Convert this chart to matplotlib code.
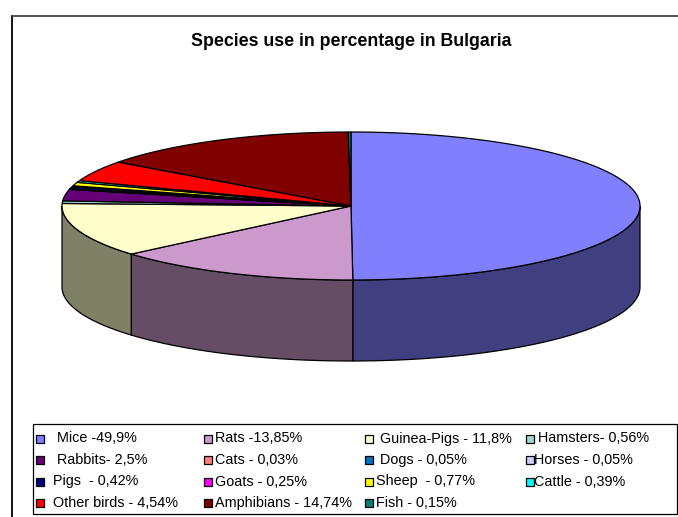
import numpy as np
import matplotlib
matplotlib.use('Agg')
import matplotlib.pyplot as plt
from matplotlib.patches import Polygon, Rectangle
from matplotlib.colors import to_rgb

species = ['Mice', 'Rats', 'Guinea-Pigs', 'Hamsters', 'Rabbits', 'Cats', 'Dogs', 'Horses',
           'Pigs', 'Goats', 'Sheep', 'Cattle', 'Other birds', 'Amphibians', 'Fish']
percent = [49.9, 13.85, 11.8, 0.56, 2.5, 0.03, 0.05, 0.05,
           0.42, 0.25, 0.77, 0.39, 4.54, 14.74, 0.15]
legend_labels = [' Mice -49,9%', 'Rats -13,85%', ' Guinea-Pigs - 11,8%', ' Hamsters- 0,56%',
                 ' Rabbits- 2,5%', 'Cats - 0,03%', ' Dogs - 0,05%', 'Horses - 0,05%',
                 'Pigs  - 0,42%', 'Goats - 0,25%', 'Sheep  - 0,77%', 'Cattle - 0,39%',
                 'Other birds - 4,54%', 'Amphibians - 14,74%', 'Fish - 0,15%']
colors = ['#8080FF', '#CC99CC', '#FFFFCC', '#A0D8D0', '#660077', '#FF8080', '#0070C0', '#CCCCFF',
          '#000080', '#FF00FF', '#FFFF00', '#00FFFF', '#FF0000', '#800000', '#008080']

plt.rcParams['font.family'] = ['Liberation Sans', 'DejaVu Sans']

fig = plt.figure(figsize=(6.78, 5.17), dpi=100)
ax = fig.add_axes([0, 0, 1, 1])
ax.set_xlim(0, 678)
ax.set_ylim(517, 0)
ax.axis('off')

# chart frame (right / bottom edges are cut off)
ax.plot([11.5, 11.5], [520, 15.5], color='black', lw=1.3)
ax.plot([11.5, 680], [15.5, 15.5], color='#444444', lw=1.3)

ax.text(351, 42, 'Species use in percentage in Bulgaria', ha='center', va='center',
        fontsize=12.8, fontweight='bold')

# 3d pie geometry
cx, cy, rx, ry, depth = 351, 206, 289, 74, 81

def pt(t):
    return cx + rx * np.cos(np.radians(t)), cy - ry * np.sin(np.radians(t))

vals = np.array(percent)
cum = np.concatenate([[0], np.cumsum(vals)]) / vals.sum() * 360.0
starts = 90 - cum[1:]
ends = 90 - cum[:-1]

# side walls (front half only: angles -180..0)
for s, e, c in zip(starts, ends, colors):
    a, b = max(s, -180), min(e, 0)
    if b <= a:
        continue
    t = np.linspace(a, b, 80)
    x, y = pt(t)
    xs = np.concatenate([x, x[::-1]])
    ys = np.concatenate([y, y[::-1] + depth])
    side = tuple(0.5 * v for v in to_rgb(c))
    ax.add_patch(Polygon(np.column_stack([xs, ys]), closed=True, fc=side, ec='black', lw=0.9))

# top faces
for s, e, c in zip(starts, ends, colors):
    t = np.linspace(s, e, max(int((e - s) * 2), 3))
    x, y = pt(t)
    xs = np.concatenate([[cx], x])
    ys = np.concatenate([[cy], y])
    ax.add_patch(Polygon(np.column_stack([xs, ys]), closed=True, fc=c, ec='black', lw=0.9))

# legend
ax.add_patch(Rectangle((33, 424), 644, 90, fc='white', ec='black', lw=0.9))
col_x = [36, 204, 365, 526]
text_off = [17, 11, 11, 8]
row_y = [438.5, 460, 481.5, 503]
for i, (lab, c) in enumerate(zip(legend_labels, colors)):
    mx, my = col_x[i % 4], row_y[i // 4]
    ax.add_patch(Rectangle((mx, my - 4), 8, 8, fc=c, ec='black', lw=0.9))
    ax.text(mx + text_off[i % 4], my, lab, ha='left', va='center', fontsize=10.4)

fig.savefig('out.png', dpi=100, facecolor='white')
